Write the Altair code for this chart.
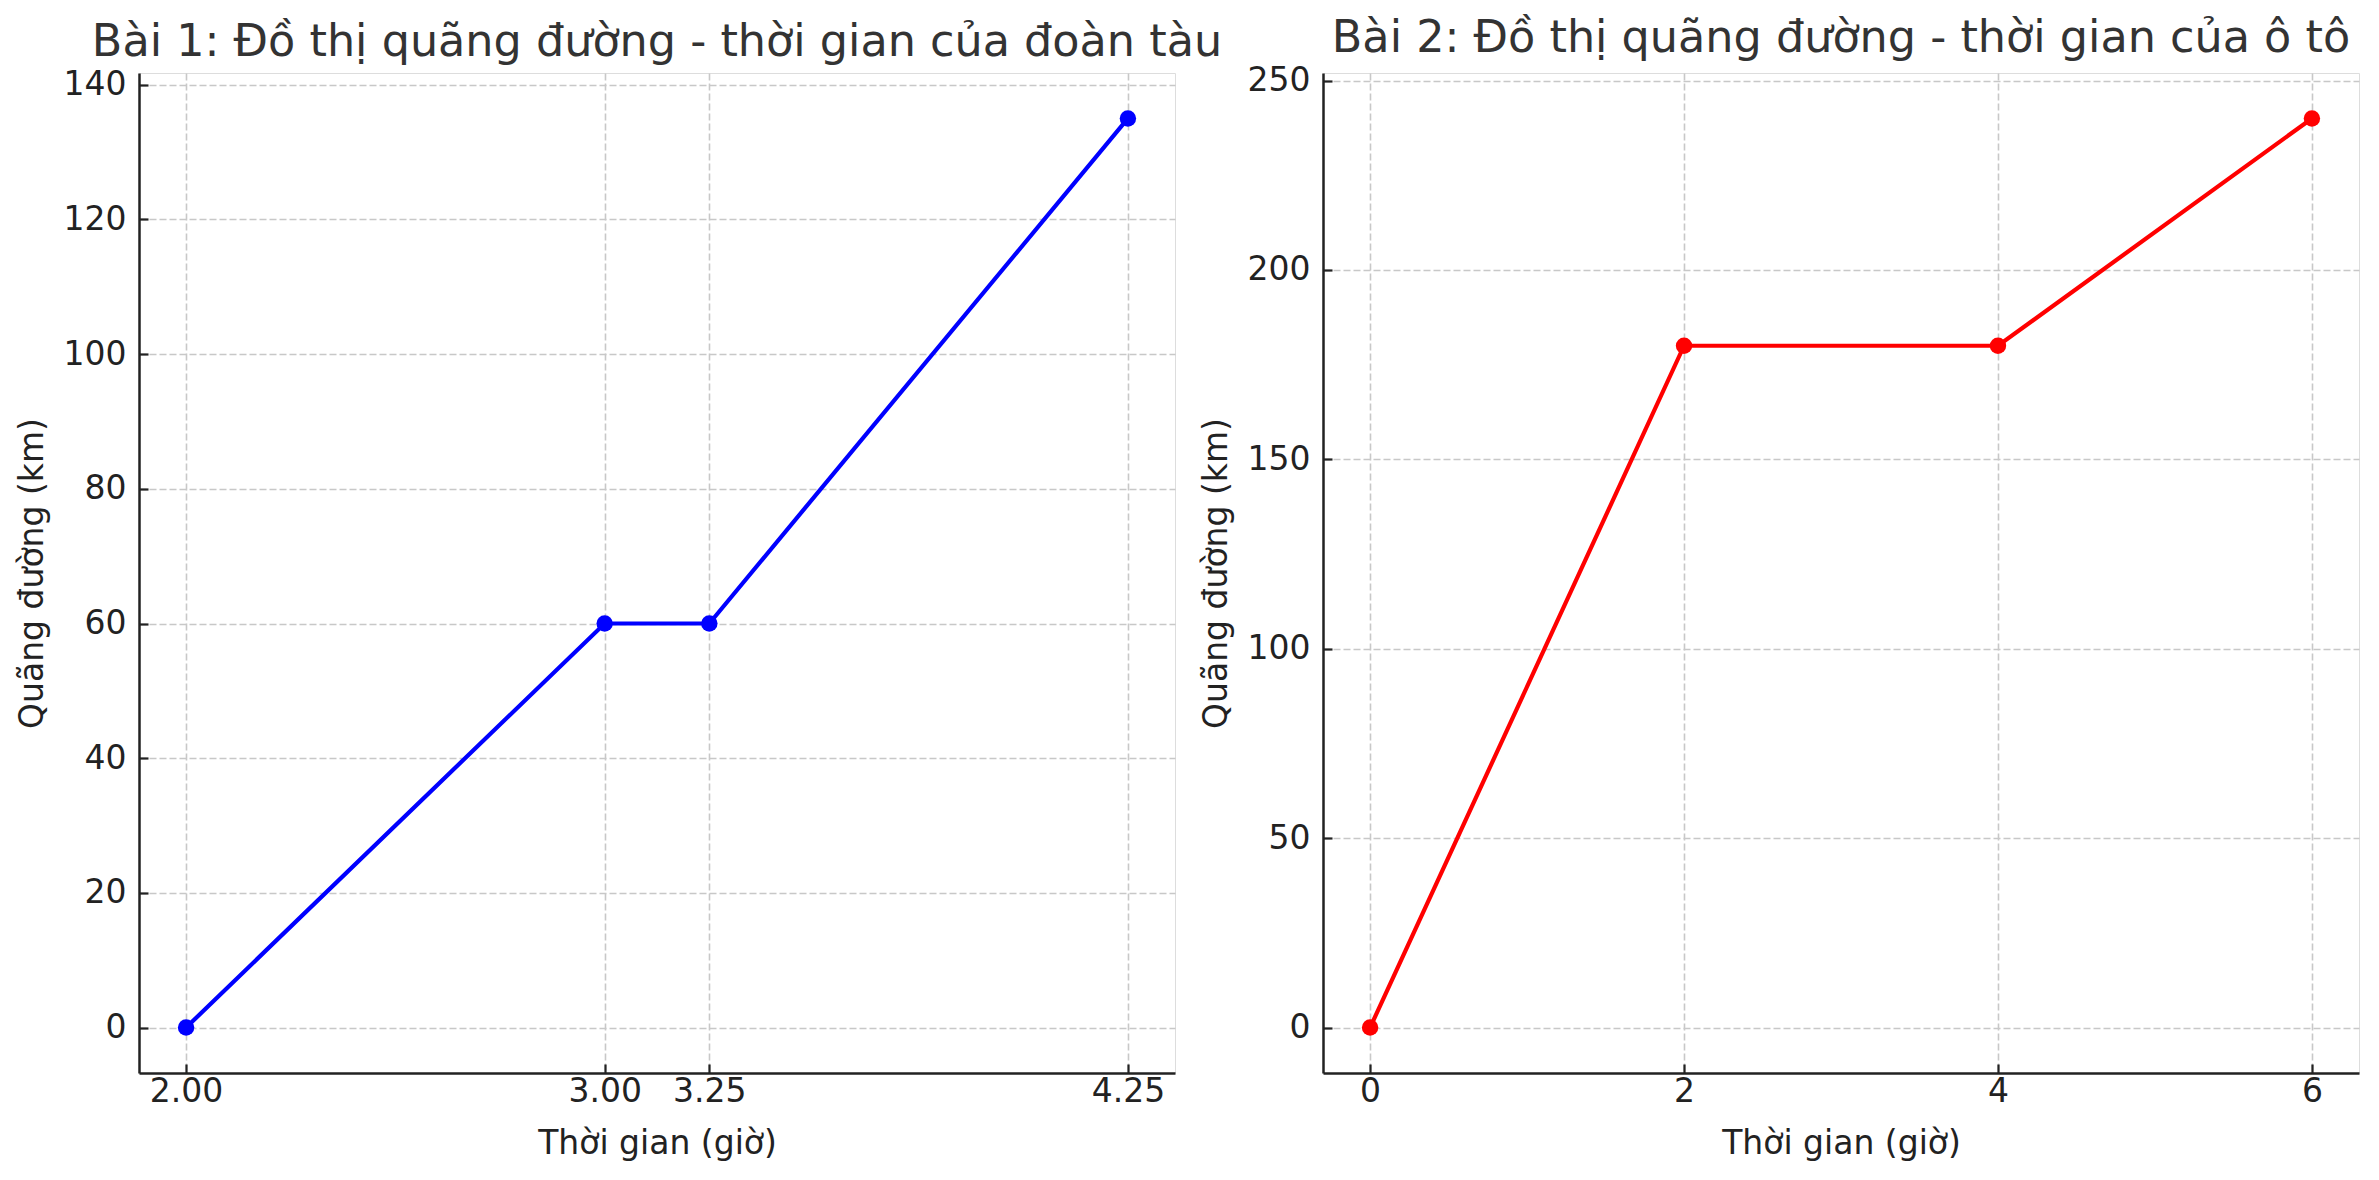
import altair as alt
import pandas as pd

# Data
t1 = [2.00, 3.00, 3.25, 4.25]
d1 = [0, 60, 60, 135]
t2 = [0, 2, 4, 6]
d2 = [0, 180, 180, 240]

xticks1 = [2.00, 3.00, 3.25, 4.25]
yticks1 = [0, 20, 40, 60, 80, 100, 120, 140]
xticks2 = [0, 2, 4, 6]
yticks2 = [0, 50, 100, 150, 200, 250]

title1 = "Bài 1: Đồ thị quãng đường - thời gian của đoàn tàu"
title2 = "Bài 2: Đồ thị quãng đường - thời gian của ô tô"
xlabel = "Thời gian (giờ)"
ylabel = "Quãng đường (km)"

FONT = "DejaVu Sans"
INK = "#222222"
GRID = "#c8c8c8"


def panel(t, d, color, title, xdom, ydom, xticks, yticks, xfmt):
    df = pd.DataFrame({"t": t, "d": d})
    base = alt.Chart(df)
    xs = alt.Scale(domain=xdom, nice=False, zero=False)
    ys = alt.Scale(domain=ydom, nice=False, zero=False)
    main_x = alt.Axis(
        orient="bottom", values=xticks, format=xfmt, title=xlabel,
        ticks=False, grid=True, gridColor=GRID, gridDash=[7, 3], gridWidth=1.6,
        domain=True, domainColor=INK, domainWidth=2.5,
        labelFont=FONT, labelFontSize=33, labelColor=INK, labelPadding=2,
        titleFont=FONT, titleFontSize=33, titleColor=INK, titleFontWeight="normal",
        titlePadding=19, labelFlush=False,
    )
    main_y = alt.Axis(
        orient="left", values=yticks, format="d", title=ylabel,
        ticks=False, grid=True, gridColor=GRID, gridDash=[7, 3], gridWidth=1.6,
        domain=True, domainColor=INK, domainWidth=2.5,
        labelFont=FONT, labelFontSize=33, labelColor=INK, labelPadding=13,
        titleFont=FONT, titleFontSize=33, titleColor=INK, titleFontWeight="normal",
        titlePadding=14, labelFlush=False,
    )
    tick_x = alt.Axis(
        orient="bottom", values=xticks, offset=-9, ticks=True, tickSize=9,
        tickWidth=2.2, tickColor=INK, labels=False, domain=False, grid=False,
        title=None,
    )
    tick_y = alt.Axis(
        orient="left", values=yticks, offset=-9, ticks=True, tickSize=9,
        tickWidth=2.2, tickColor=INK, labels=False, domain=False, grid=False,
        title=None,
    )
    line = base.mark_line(color=color, strokeWidth=4.2).encode(
        x=alt.X("t:Q", scale=xs, axis=main_x),
        y=alt.Y("d:Q", scale=ys, axis=main_y),
    )
    pts = base.mark_circle(color=color, size=270, opacity=1).encode(
        x=alt.X("t:Q", scale=xs, axis=tick_x),
        y=alt.Y("d:Q", scale=ys, axis=tick_y),
    )
    return (
        alt.layer(line, pts)
        .resolve_axis(x="independent", y="independent")
        .properties(
            width=1036,
            height=1000,
            title=alt.TitleParams(
                text=title, font=FONT, fontSize=44.5, fontWeight="normal",
                color="#333333", anchor="middle", offset=3,
            ),
        )
    )


p1 = panel(t1, d1, "#0000ff", title1, [1.8875, 4.3625], [-6.75, 141.75],
           xticks1, yticks1, ".2f")
p2 = panel(t2, d2, "#ff0000", title2, [-0.3, 6.3], [-12, 252],
           xticks2, yticks2, "d")

chart = (
    alt.hconcat(p1, p2, spacing=148, bounds="flush")
    .properties(padding={"left": 7, "top": 7, "right": 5, "bottom": 5})
    .configure_view(stroke="white", strokeWidth=0, strokeOpacity=0)
    .configure(background="white")
)

chart.save("out.html", embed_options={"renderer": "svg", "actions": False})
